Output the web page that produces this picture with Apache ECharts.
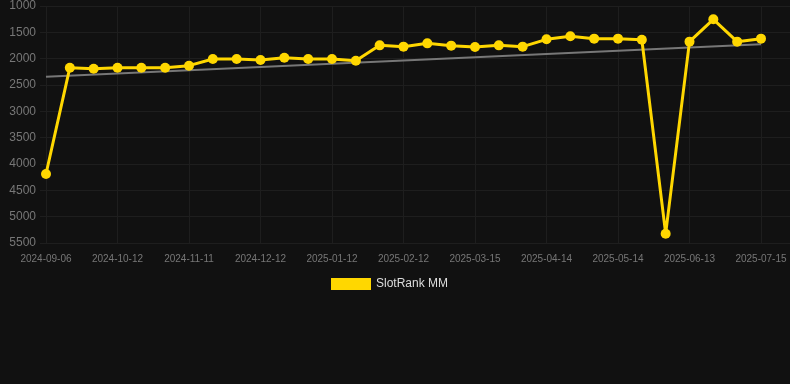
<!DOCTYPE html>
<html>
<head>
<meta charset="utf-8">
<script src="https://cdn.jsdelivr.net/npm/echarts@6/dist/echarts.min.js"></script>
<style>
html,body{margin:0;padding:0;background:#111111;}
#chart{width:790px;height:384px;}
</style>
</head>
<body>
<div id="chart"></div>
<script>
var categories = ['2024-09-06','2024-09-18','2024-09-30','2024-10-12','2024-10-22','2024-11-01','2024-11-11','2024-11-21','2024-12-02','2024-12-12','2024-12-22','2025-01-02','2025-01-12','2025-01-22','2025-02-02','2025-02-12','2025-02-22','2025-03-05','2025-03-15','2025-03-25','2025-04-04','2025-04-14','2025-04-24','2025-05-04','2025-05-14','2025-05-24','2025-06-03','2025-06-13','2025-06-23','2025-07-04','2025-07-15'];
var rankValues = [4190,2171,2190,2171,2171,2171,2133,2006,2006,2025,1981,2006,2006,2038,1747,1772,1709,1753,1778,1747,1772,1633,1576,1620,1620,1640,5323,1677,1253,1677,1620];
var trendStart = 2345;
var trendEnd = 1725;
var seriesName = 'SlotRank MM';

var trendValues = categories.map(function(c, i){
  if (i === 0) return trendStart;
  if (i === categories.length - 1) return trendEnd;
  return null;
});

var font = 'Liberation Sans, Arial, sans-serif';
var gridColor = '#1e1e1e';
var chart = echarts.init(document.getElementById('chart'));
chart.setOption({
  backgroundColor: '#111111',
  animation: false,
  grid: [
    {left: 40, right: 0, top: 6, bottom: 141, containLabel: false},
    {left: 46, right: 29, top: 6, bottom: 141, containLabel: false}
  ],
  legend: {
    data: [seriesName],
    top: 273,
    left: 326,
    itemWidth: 40,
    itemHeight: 12,
    itemGap: 10,
    textStyle: {color: '#dddddd', fontSize: 12, fontFamily: font},
    icon: 'rect'
  },
  xAxis: [
    {gridIndex: 0, type: 'category', data: categories, show: false},
    {
      gridIndex: 1, type: 'category', data: categories, boundaryGap: false,
      axisLine: {show: false},
      axisTick: {show: false},
      axisLabel: {interval: 2, color: '#777777', fontSize: 10, fontFamily: font, margin: 11},
      splitLine: {show: true, interval: 2, lineStyle: {color: gridColor, width: 1}}
    }
  ],
  yAxis: [
    {
      gridIndex: 0, type: 'value', inverse: true, min: 1000, max: 5500, interval: 500,
      axisLine: {show: false}, axisTick: {show: false},
      axisLabel: {color: '#777777', fontSize: 12, fontFamily: font, margin: 4,
        formatter: function(v){ return String(v); }},
      splitLine: {show: true, lineStyle: {color: gridColor, width: 1}}
    },
    {
      gridIndex: 1, type: 'value', inverse: true, min: 1000, max: 5500, interval: 500,
      axisLine: {show: false}, axisTick: {show: false}, axisLabel: {show: false},
      splitLine: {show: false}
    }
  ],
  series: [
    {
      name: 'trend', type: 'line', xAxisIndex: 1, yAxisIndex: 1,
      data: trendValues, connectNulls: true, showSymbol: false, symbol: 'none',
      lineStyle: {color: '#777777', width: 2}, silent: true, z: 1
    },
    {
      name: seriesName, type: 'line', xAxisIndex: 1, yAxisIndex: 1,
      data: rankValues, symbol: 'circle', symbolSize: 10, showSymbol: true,
      itemStyle: {color: '#FFD700'},
      lineStyle: {color: '#FFD700', width: 3}, z: 2
    }
  ]
});
</script>
</body>
</html>
